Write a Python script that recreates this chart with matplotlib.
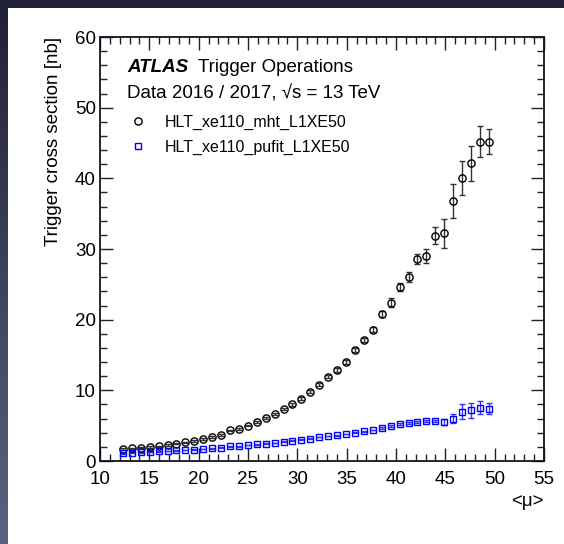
import numpy as np
import matplotlib
matplotlib.use('Agg')
import matplotlib.pyplot as plt
from matplotlib.lines import Line2D

plt.rcParams['font.family'] = ['Liberation Sans', 'DejaVu Sans']

# ─────────────────────────────────────────────
# DATA
# ─────────────────────────────────────────────
mu = [12.33, 13.23, 14.14, 15.04, 15.95, 16.85, 17.75, 18.66, 19.56, 20.47,
      21.37, 22.28, 23.18, 24.08, 24.99, 25.89, 26.80, 27.70, 28.61, 29.51,
      30.41, 31.32, 32.22, 33.13, 34.03, 34.94, 35.84, 36.74, 37.65, 38.55,
      39.46, 40.36, 41.27, 42.17, 43.07, 43.98, 44.88, 45.79, 46.69, 47.60,
      48.50, 49.40]

xs_mht = [1.70, 1.79, 1.89, 1.98, 2.08, 2.26, 2.45, 2.64, 2.83, 3.11,
          3.40, 3.68, 4.34, 4.53, 5.00, 5.50, 6.10, 6.60, 7.40, 8.00,
          8.80, 9.80, 10.8, 11.9, 12.9, 14.0, 15.7, 17.1, 18.6, 20.8,
          22.4, 24.6, 26.1, 28.6, 29.0, 31.9, 32.2, 36.8, 40.0, 42.1,
          45.2, 45.2]
err_mht = [0.10, 0.10, 0.10, 0.10, 0.10, 0.10, 0.10, 0.10, 0.10, 0.10,
           0.10, 0.10, 0.10, 0.10, 0.10, 0.15, 0.15, 0.15, 0.15, 0.15,
           0.20, 0.20, 0.20, 0.20, 0.25, 0.25, 0.25, 0.25, 0.30, 0.40,
           0.60, 0.60, 0.70, 0.70, 1.05, 1.25, 2.10, 2.40, 2.40, 2.50,
           2.20, 1.80]

xs_pufit = [1.08, 1.18, 1.23, 1.32, 1.37, 1.42, 1.51, 1.56, 1.60, 1.70,
            1.80, 1.89, 2.07, 2.07, 2.26, 2.35, 2.45, 2.55, 2.74, 2.88,
            3.02, 3.16, 3.40, 3.54, 3.63, 3.82, 4.00, 4.20, 4.40, 4.65,
            4.95, 5.25, 5.40, 5.55, 5.60, 5.65, 5.50, 6.00, 7.00, 7.20,
            7.55, 7.40]
err_pufit = [0.05, 0.05, 0.05, 0.05, 0.05, 0.05, 0.05, 0.05, 0.05, 0.05,
             0.05, 0.05, 0.05, 0.05, 0.05, 0.05, 0.05, 0.05, 0.05, 0.05,
             0.05, 0.05, 0.05, 0.05, 0.05, 0.05, 0.05, 0.05, 0.05, 0.10,
             0.10, 0.10, 0.10, 0.15, 0.15, 0.20, 0.45, 0.64, 1.00, 1.06,
             0.90, 0.78]

labels = ['HLT_xe110_mht_L1XE50', 'HLT_xe110_pufit_L1XE50']

# ─────────────────────────────────────────────
# FIGURE
# ─────────────────────────────────────────────
W, H = 564, 544
fig = plt.figure(figsize=(W / 100, H / 100), dpi=100, facecolor='white')

# slide frame: dark band on top, gradient strip on the left
ax_bg = fig.add_axes([0, 0, 1, 1], zorder=-10)
ax_bg.set_xlim(0, W); ax_bg.set_ylim(H, 0); ax_bg.axis('off')
grad = np.linspace(0, 1, 256)[:, None]
top_c = np.array([0x20, 0x20, 0x36]) / 255
bot_c = np.array([0x5c, 0x62, 0x80]) / 255
img = top_c[None, None, :] * (1 - grad[:, :, None]) + bot_c[None, None, :] * grad[:, :, None]
ax_bg.imshow(img, extent=[0, 8, H, 0], aspect='auto')
ax_bg.add_patch(plt.Rectangle((0, 0), W, 8, color='#202036', lw=0))

ax = fig.add_axes([100 / W, (H - 461) / H, 444 / W, 424 / H])

ax.errorbar(mu, xs_mht, yerr=err_mht, fmt='o', ms=5.2, mfc='none', mec='black',
            mew=1.0, ecolor='#333333', elinewidth=1.0, capsize=2.3, capthick=1.0)
ax.errorbar(mu, xs_pufit, yerr=err_pufit, fmt='s', ms=5.0, mfc='none', mec='#0000ff',
            mew=1.0, ecolor='#3333ff', elinewidth=1.0, capsize=2.3, capthick=1.0)

ax.set_xlim(10, 55)
ax.set_ylim(0, 60)
ax.set_xticks(np.arange(10, 56, 5))
ax.set_xticks(np.arange(10, 56, 1), minor=True)
ax.set_yticks(np.arange(0, 61, 10))
ax.set_yticks(np.arange(0, 61, 2), minor=True)
ax.tick_params(which='both', direction='in', top=True, right=True,
               labelsize=13.5, width=1.0, color='#222222')
ax.tick_params(which='major', length=9.4)
ax.tick_params(which='minor', length=4.8)
ax.tick_params(axis='x', pad=7)
ax.tick_params(axis='y', pad=3)
for sp in ax.spines.values():
    sp.set_linewidth(1.3)
    sp.set_color('#111122')

ax.set_ylabel('Trigger cross section [nb]', fontsize=13.5, loc='top', labelpad=9)
ax.set_xlabel('<μ>', fontsize=13.5, loc='right', labelpad=4)

# ATLAS labels
ax.text(27 / 444, 1 - 31 / 424, 'ATLAS', transform=ax.transAxes, fontsize=13.5,
        fontweight='bold', fontstyle='italic', va='center')
ax.text(98 / 444, 1 - 31 / 424, 'Trigger Operations', transform=ax.transAxes,
        fontsize=13.5, va='center')
ax.text(27 / 444, 1 - 57 / 424, 'Data 2016 / 2017, √s = 13 TeV',
        transform=ax.transAxes, fontsize=13.5, va='center')

handles = [Line2D([], [], ls='none', marker='o', ms=5.2, mfc='none', mec='black', mew=1.0),
           Line2D([], [], ls='none', marker='s', ms=5.0, mfc='none', mec='#0000ff', mew=1.0)]
ax.legend(handles, labels, loc='upper left', bbox_to_anchor=(30 / 444, 1 - 78 / 424),
          frameon=False, fontsize=11.5, handlelength=1.0, handletextpad=1.2,
          labelspacing=0.58, borderaxespad=0, borderpad=0)

fig.savefig('out.png', dpi=100, facecolor='white')
